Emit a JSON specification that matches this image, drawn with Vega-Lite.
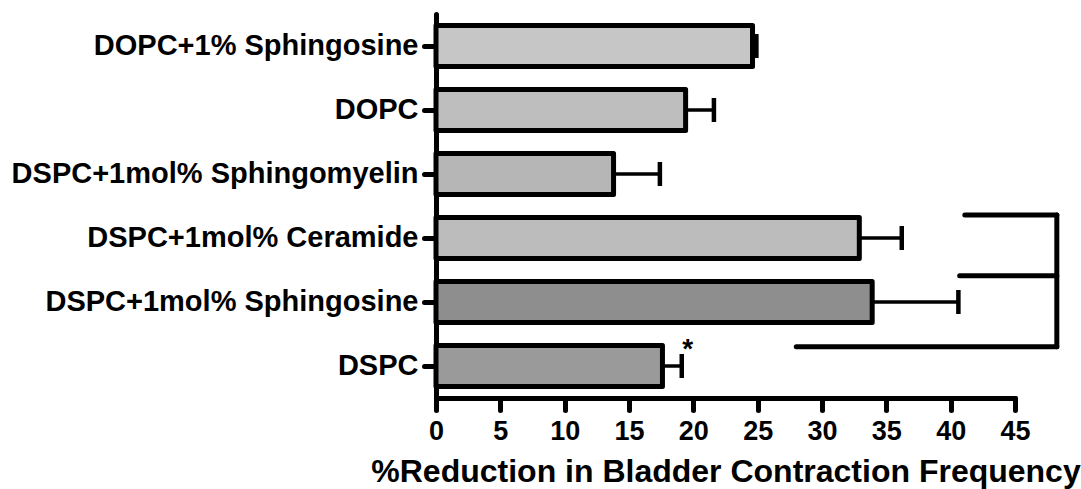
{
  "$schema": "https://vega.github.io/schema/vega-lite/v6.json",
  "width": 579,
  "height": 384,
  "autosize": "none",
  "padding": {"left": 436, "top": 14, "right": 66, "bottom": 91},
  "background": "white",
  "config": {
    "view": {"stroke": null},
    "font": "Liberation Sans",
    "axis": {
      "grid": false,
      "domainColor": "black",
      "domainWidth": 5,
      "tickColor": "black",
      "tickWidth": 5,
      "tickSize": 12,
      "tickCap": "round",
      "domainCap": "round",
      "labelFont": "Liberation Sans",
      "labelFontWeight": "bold",
      "labelFontSize": 29,
      "labelColor": "black",
      "labelLimit": 0,
      "titleFont": "Liberation Sans",
      "titleFontWeight": "bold",
      "titleColor": "black"
    }
  },
  "datasets": {
    "bars": [
      {"cat": "DOPC+1% Sphingosine", "mean": 24.6, "hi": 24.9, "star": ""},
      {"cat": "DOPC", "mean": 19.4, "hi": 21.6, "star": ""},
      {"cat": "DSPC+1mol% Sphingomyelin", "mean": 13.8, "hi": 17.4, "star": ""},
      {"cat": "DSPC+1mol% Ceramide", "mean": 32.9, "hi": 36.2, "star": ""},
      {"cat": "DSPC+1mol% Sphingosine", "mean": 33.9, "hi": 40.6, "star": ""},
      {"cat": "DSPC", "mean": 17.6, "hi": 19.1, "star": "*"}
    ],
    "brackets": [
      {"x": 41.1, "x2": 48.25, "y": 3.14, "y2": 3.14},
      {"x": 40.7, "x2": 48.25, "y": 4.09, "y2": 4.09},
      {"x": 28.0, "x2": 48.25, "y": 5.2, "y2": 5.2},
      {"x": 48.25, "x2": 48.25, "y": 3.14, "y2": 5.2}
    ]
  },
  "layer": [
    {
      "data": {"name": "bars"},
      "encoding": {
        "y": {
          "field": "cat",
          "type": "nominal",
          "sort": null,
          "scale": {"paddingInner": 0.36, "paddingOuter": 0.18},
          "axis": {"title": null, "labelPadding": 6}
        }
      },
      "layer": [
        {
          "mark": {"type": "bar", "stroke": "black", "strokeWidth": 5, "strokeJoin": "round"},
          "encoding": {
            "x": {
              "field": "mean",
              "type": "quantitative",
              "scale": {"domain": [0, 45], "nice": false},
              "axis": {
                "values": [0, 5, 10, 15, 20, 25, 30, 35, 40, 45],
                "title": "%Reduction in Bladder Contraction Frequency",
                "titleFontSize": 32,
                "titlePadding": 12,
                "labelPadding": 8,
                "labelFontSize": 27,
                "labelFlush": false
              }
            },
            "fill": {
              "field": "cat",
              "type": "nominal",
              "sort": null,
              "legend": null,
              "scale": {"range": ["#c6c6c6", "#bebebe", "#b6b6b6", "#bcbcbc", "#8e8e8e", "#9a9a9a"]}
            }
          }
        },
        {
          "mark": {"type": "rule", "color": "black", "strokeWidth": 3.5},
          "encoding": {
            "x": {"field": "mean", "type": "quantitative"},
            "x2": {"field": "hi"}
          }
        },
        {
          "mark": {"type": "tick", "color": "black", "thickness": 4.5, "size": 24, "orient": "vertical", "opacity": 1},
          "encoding": {
            "x": {"field": "hi", "type": "quantitative"}
          }
        },
        {
          "mark": {"type": "text", "fontSize": 28, "fontWeight": "bold", "align": "center", "dx": 6, "dy": -16, "color": "black"},
          "encoding": {
            "x": {"field": "hi", "type": "quantitative"},
            "text": {"field": "star"}
          }
        }
      ]
    },
    {
      "data": {"name": "brackets"},
      "mark": {"type": "rule", "color": "black", "strokeWidth": 5, "strokeCap": "round"},
      "encoding": {
        "x": {"field": "x", "type": "quantitative"},
        "x2": {"field": "x2"},
        "y": {"field": "y", "type": "quantitative", "scale": {"domain": [0, 6], "reverse": true, "nice": false, "zero": false}, "axis": null},
        "y2": {"field": "y2"}
      }
    }
  ],
  "resolve": {"scale": {"y": "independent"}, "axis": {"y": "independent"}}
}
